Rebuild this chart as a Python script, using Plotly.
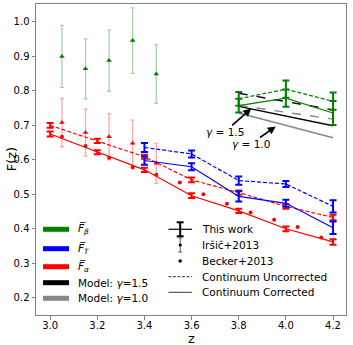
import plotly.graph_objects as go

# This work: F_alpha (red)
z_alpha = [3.0, 3.2, 3.4, 3.6, 3.8, 4.0, 4.2]
fa_uncorr = [0.700, 0.655, 0.609, 0.542, 0.505, 0.465, 0.433]
fa_uncorr_err = [0.007, 0.006, 0.006, 0.007, 0.006, 0.007, 0.008]
fa_corr = [0.675, 0.622, 0.571, 0.496, 0.452, 0.400, 0.362]
fa_corr_err = [0.007, 0.006, 0.006, 0.007, 0.006, 0.007, 0.008]

# This work: F_T (blue)
z_T = [3.4, 3.6, 3.8, 4.0, 4.2]
ft_uncorr = [0.636, 0.617, 0.540, 0.530, 0.465]
ft_uncorr_err = [0.013, 0.010, 0.012, 0.009, 0.018]
ft_corr = [0.598, 0.580, 0.494, 0.474, 0.403]
ft_corr_err = [0.012, 0.010, 0.015, 0.010, 0.018]

# This work: F_beta (green)
z_beta = [3.8, 4.0, 4.2]
fb_uncorr = [0.777, 0.805, 0.770]
fb_uncorr_err = [0.020, 0.025, 0.025]
fb_corr = [0.757, 0.779, 0.736]
fb_corr_err = [0.020, 0.025, 0.035]

# models for F_beta
g15_uncorr = [0.793, 0.769, 0.745]
g15_corr = [0.755, 0.727, 0.699]
g10_uncorr = [0.758, 0.738, 0.718]
g10_corr = [0.736, 0.700, 0.664]

# Irsic+2013
z_irsic = [3.05, 3.15, 3.25, 3.35, 3.45]
irsic_alpha = [0.708, 0.679, 0.667, 0.648, 0.590]
irsic_alpha_err = [0.070, 0.068, 0.067, 0.067, 0.058]
irsic_beta = [0.900, 0.864, 0.888, 0.946, 0.849]
irsic_beta_err = [0.090, 0.087, 0.089, 0.095, 0.085]

# Becker+2013
z_becker = [3.05, 3.15, 3.25, 3.35, 3.45, 3.55, 3.65, 3.75, 3.85, 3.95, 4.05, 4.15]
becker = [0.667, 0.640, 0.606, 0.578, 0.557, 0.534, 0.500, 0.473, 0.447, 0.426, 0.405, 0.375]

x_ticks = [3.0, 3.2, 3.4, 3.6, 3.8, 4.0, 4.2]
y_ticks = [0.2, 0.3, 0.4, 0.5, 0.6, 0.7, 0.8, 0.9, 1.0]

FONT = "DejaVu Sans"
fig = go.Figure()

# Irsic error bars (light)
for y, err, col, light in [(irsic_beta, irsic_beta_err, "green", "rgba(0,128,0,0.35)"),
                           (irsic_alpha, irsic_alpha_err, "red", "rgba(255,0,0,0.35)")]:
    fig.add_trace(go.Scatter(
        x=z_irsic, y=y, mode="markers",
        marker=dict(symbol="triangle-up", size=5, color=col),
        error_y=dict(type="data", array=err, color=light, thickness=1.3, width=2),
    ))

# Becker dots
fig.add_trace(go.Scatter(x=z_becker, y=becker, mode="markers",
                         marker=dict(size=4, color="red")))

# model lines
for y, col, dash in [(g10_uncorr, "#888888", "dash"), (g10_corr, "#888888", "solid"),
                     (g15_uncorr, "black", "dash"), (g15_corr, "black", "solid")]:
    fig.add_trace(go.Scatter(x=z_beta, y=y, mode="lines",
                             line=dict(color=col, width=1.4, dash=dash)))

# this work
series = [
    (z_alpha, fa_uncorr, fa_uncorr_err, "red", "dash"),
    (z_alpha, fa_corr, fa_corr_err, "red", "solid"),
    (z_T, ft_uncorr, ft_uncorr_err, "blue", "dash"),
    (z_T, ft_corr, ft_corr_err, "blue", "solid"),
    (z_beta, fb_uncorr, fb_uncorr_err, "green", "dash"),
    (z_beta, fb_corr, fb_corr_err, "green", "solid"),
]
for x, y, err, col, dash in series:
    fig.add_trace(go.Scatter(
        x=x, y=y, mode="lines",
        line=dict(color=col, width=1.2, dash="4px,2px" if dash == "dash" else "solid"),
        error_y=dict(type="data", array=err, color=col, thickness=2, width=3.5),
    ))

# annotations for gamma
fig.add_annotation(x=3.853, y=0.749, ax=3.741, ay=0.681, axref="x", ayref="y",
                   text="<i>γ</i> = 1.5", showarrow=True, arrowhead=2, arrowsize=1,
                   arrowwidth=1.6, arrowcolor="black", borderpad=0,
                   font=dict(size=10.5, color="black"))
fig.add_annotation(x=3.957, y=0.697, ax=3.851, ay=0.646, axref="x", ayref="y",
                   text="<i>γ</i> = 1.0", showarrow=True, arrowhead=2, arrowsize=1,
                   arrowwidth=1.6, arrowcolor="black", borderpad=0,
                   font=dict(size=10.5, color="black"))

# ---- legends drawn in axis-domain coordinates ----
W, H = 309.7, 311.0  # plot area in px


def px_x(p):
    return p / W


def px_y(p):
    return p / H


def dom(kind, **kw):
    fig.add_shape(type=kind, xref="x domain", yref="y domain", **kw)


left_rows = [
    (0.2756, "green", "<i>F̅</i><sub><i>β</i></sub>"),
    (0.2132, "blue", "<i>F̅</i><sub><i>T</i></sub>"),
    (0.1553, "red", "<i>F̅</i><sub><i>α</i></sub>"),
    (0.1039, "black", "Model: <i>γ</i>=1.5"),
    (0.0537, "#888888", "Model: <i>γ</i>=1.0"),
]
for y, col, label in left_rows:
    dom("line", x0=0.0226, x1=0.1066, y0=y, y1=y, line=dict(color=col, width=5))
    fig.add_annotation(x=0.129, y=y, xref="x domain", yref="y domain", text=label,
                       showarrow=False, xanchor="left", yanchor="middle",
                       font=dict(size=10.5, color="black"))

rx0, rx1, rtext = 0.4274, 0.5029, 0.5295
rc = (rx0 + rx1) / 2
right_rows = [0.2756, 0.2251, 0.1736, 0.1232, 0.0730]
right_labels = ["This work", "Iršič+2013", "Becker+2013", "Continuum Uncorrected", "Continuum Corrected"]
for y, label in zip(right_rows, right_labels):
    fig.add_annotation(x=rtext, y=y, xref="x domain", yref="y domain", text=label,
                       showarrow=False, xanchor="left", yanchor="middle",
                       font=dict(size=10.5, color="black"))
# This work: line + errorbar
y = right_rows[0]
dom("line", x0=rx0, x1=rx1, y0=y, y1=y, line=dict(color="black", width=1.2))
dom("line", x0=rc, x1=rc, y0=y - px_y(7), y1=y + px_y(7), line=dict(color="black", width=2))
for yy in (y - px_y(7), y + px_y(7)):
    dom("line", x0=rc - px_x(3.5), x1=rc + px_x(3.5), y0=yy, y1=yy, line=dict(color="black", width=2))
# Irsic: thin errorbar + small marker
y = right_rows[1]
dom("line", x0=rc, x1=rc, y0=y - px_y(7), y1=y + px_y(7), line=dict(color="#555555", width=1))
for yy in (y - px_y(7), y + px_y(7)):
    dom("line", x0=rc - px_x(2), x1=rc + px_x(2), y0=yy, y1=yy, line=dict(color="#555555", width=1))
dom("circle", x0=rc - px_x(1.6), x1=rc + px_x(1.6), y0=y - px_y(1.6), y1=y + px_y(1.6),
    fillcolor="black", line=dict(width=0))
# Becker: dot
y = right_rows[2]
dom("circle", x0=rc - px_x(1.8), x1=rc + px_x(1.8), y0=y - px_y(1.8), y1=y + px_y(1.8),
    fillcolor="black", line=dict(width=0))
# continuum lines
y = right_rows[3]
dom("line", x0=rx0, x1=rx1, y0=y, y1=y, line=dict(color="black", width=0.8, dash="3px,1.5px"))
y = right_rows[4]
dom("line", x0=rx0, x1=rx1, y0=y, y1=y, line=dict(color="black", width=0.8))

# axis titles
fig.add_annotation(x=0.5, y=-0.074, xref="x domain", yref="y domain", text="z",
                   showarrow=False, xanchor="center", yanchor="middle",
                   font=dict(size=13, color="black"))
fig.add_annotation(x=-0.078, y=0.5, xref="x domain", yref="y domain", text="F(z)",
                   showarrow=False, xanchor="center", yanchor="middle", textangle=-90,
                   font=dict(size=13, color="black"))

axis_style = dict(showline=True, mirror=True, linecolor="#808080", linewidth=1,
                  ticks="outside", ticklen=3.5, tickcolor="#808080", showgrid=False,
                  zeroline=False, automargin=False, tickfont=dict(size=10, color="black"))

fig.update_layout(
    width=353, height=345,
    margin=dict(l=36, r=7, t=4, b=30),
    paper_bgcolor="white", plot_bgcolor="white",
    showlegend=False,
    font=dict(family=FONT, color="black"),
    xaxis=dict(range=[2.94, 4.255], tickvals=x_ticks, tickformat=".1f",
               ticklabelstandoff=-3, **axis_style),
    yaxis=dict(range=[0.15, 1.052], tickvals=y_ticks, tickformat=".1f", **axis_style),
)

fig.write_html("out.html", config={"displayModeBar": False},
               post_script="document.body.style.margin='0';document.body.style.overflow='hidden';")
